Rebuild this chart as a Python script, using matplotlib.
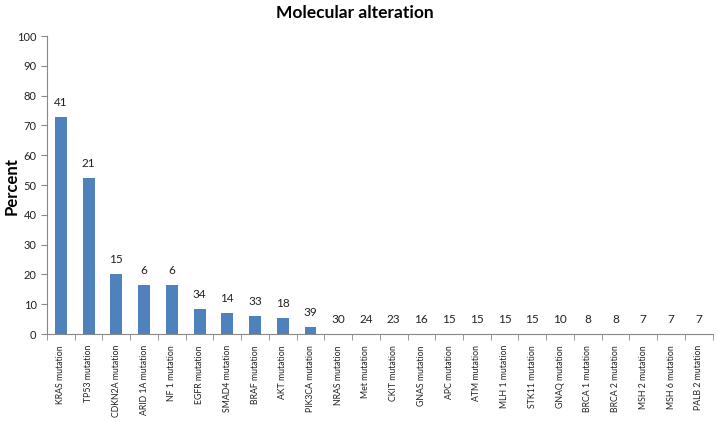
import matplotlib
matplotlib.use("Agg")
import matplotlib.pyplot as plt
import numpy as np

plt.rcParams['font.family'] = ['Lato', 'DejaVu Sans']

genes = ['KRAS mutation', 'TP53 mutation', 'CDKN2A mutation', 'ARID 1A mutation',
         'NF 1 mutation', 'EGFR mutation', 'SMAD4 mutation', 'BRAF mutation',
         'AKT mutation', 'PIK3CA mutation', 'NRAS mutation', 'Met mutation',
         'CKIT mutation', 'GNAS mutation', 'APC mutation', 'ATM mutation',
         'MLH 1 mutation', 'STK11 mutation', 'GNAQ mutation', 'BRCA 1 mutation',
         'BRCA 2 mutation', 'MSH 2 mutation', 'MSH 6 mutation', 'PALB 2 mutation']
percent = [73, 52.5, 20, 16.5, 16.5, 8.5, 7, 6, 5.5, 2.5,
           0, 0, 0, 0, 0, 0, 0, 0, 0, 0, 0, 0, 0, 0]
counts = [41, 21, 15, 6, 6, 34, 14, 33, 18, 39,
          30, 24, 23, 16, 15, 15, 15, 15, 10, 8, 8, 7, 7, 7]

fig = plt.figure(figsize=(7.18, 4.22), dpi=100)
ax = fig.add_axes([0.0655, 0.2085, 0.927, 0.706])

x = np.arange(len(genes))
bars = ax.bar(x, percent, width=0.43, color='#4F81BD')

for xi, p, c in zip(x, percent, counts):
    ax.text(xi, p + 3, str(c), ha='center', va='bottom', fontsize=8.5, color='#222222')

ax.set_xlim(-0.5, len(genes) - 0.5)
ax.set_ylim(0, 100)
ax.set_yticks(range(0, 101, 10))
ax.tick_params(axis='y', labelsize=8, length=4, color='#888888', labelcolor='#222222')

ax.set_xticks(x)
ax.set_xticklabels(genes, rotation=90, fontsize=6.3, color='#222222')
ax.set_xticks(np.arange(-0.5, len(genes)), minor=True)
ax.tick_params(axis='x', which='major', length=0, pad=8)
ax.tick_params(axis='x', which='minor', length=4, color='#888888')

for s in ['top', 'right']:
    ax.spines[s].set_visible(False)
for s in ['left', 'bottom']:
    ax.spines[s].set_color('#888888')

fig.text(0.016, 0.56, 'Percent', rotation=90, ha='center', va='center',
         fontsize=12, fontweight='bold')
fig.text(0.494, 0.97, 'Molecular alteration', ha='center', va='center',
         fontsize=12.5, fontweight='bold')

fig.savefig('out.png', dpi=100)
